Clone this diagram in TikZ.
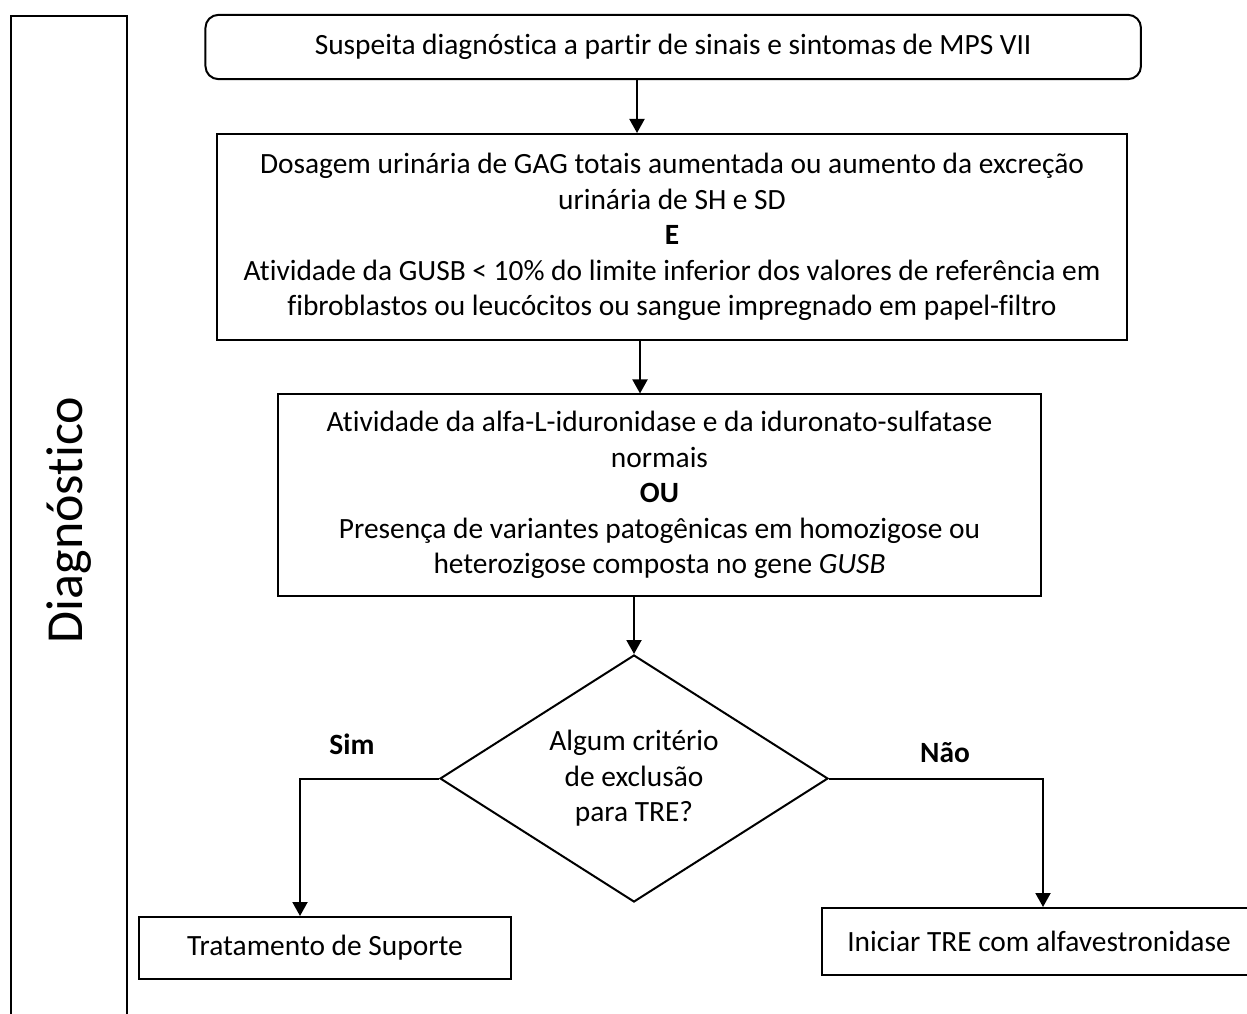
\documentclass[tikz,border=0pt]{standalone}
\usepackage{fontspec}
\setmainfont{Carlito}[Ligatures={NoCommon}]
\usetikzlibrary{arrows.meta,shapes.geometric}
\tikzset{
  ln/.style={line width=2pt, draw=black},
  txt/.style={font=\fontsize{29.4}{35.5}\selectfont, align=center, inner sep=0pt},
  boxr/.style={ln, txt, rectangle},
  arr/.style={ln, -{Triangle[length=14pt,width=15pt]}},
}
\begin{document}
\begin{tikzpicture}[x=1pt,y=-1pt]
\useasboundingbox (0,0) rectangle (1247,1014);
% side panel
\node[ln, rectangle, minimum width=116pt, minimum height=1015pt, inner sep=0pt, anchor=north west] (panel) at (9.5,14.7) {};
\node[font=\fontsize{52}{60}\selectfont, rotate=90, anchor=base, inner sep=0pt] (diag) at (82,520) {Diagnóstico};
% boxes
\node[boxr, rounded corners=13pt, minimum width=935.5pt, minimum height=64.3pt] (b1) at (673.2,47) {Suspeita diagnóstica a partir de sinais e sintomas de MPS VII};
\node[boxr, minimum width=910pt, minimum height=206pt] (b2) at (672,237) {Dosagem urinária de GAG totais aumentada ou aumento da excreção\\ urinária de SH e SD\\ \textbf{E}\\ Atividade da GUSB < 10\% do limite inferior dos valores de referência em\\ fibroblastos ou leucócitos ou sangue impregnado em papel-filtro};
\node[boxr, minimum width=763pt, minimum height=201.5pt] (b3) at (659.5,495.2) {Atividade da alfa-L-iduronidase e da iduronato-sulfatase\\ normais\\ \textbf{OU}\\ Presença de variantes patogênicas em homozigose ou\\ heterozigose composta no gene \textit{GUSB}};
\node[ln, txt, diamond, aspect=1.57, minimum width=388pt, minimum height=247pt] (d) at (634,778.5) {Algum critério\\ de exclusão\\ para TRE?};
\node[boxr, minimum width=372pt, minimum height=62pt] (b4) at (325,948) {Tratamento de Suporte};
\node[boxr, minimum width=434pt, minimum height=67pt] (b5) at (1039,941.5) {Iniciar TRE com alfavestronidase};
% labels
\node[txt, font=\fontsize{29.4}{35.5}\selectfont\bfseries] (sim) at (352,744) {Sim};
\node[txt, font=\fontsize{29.4}{35.5}\selectfont\bfseries] (nao) at (945,753) {Não};
% connector helpers
\coordinate (x1) at (637,0);
\coordinate (x2) at (640,0);
\coordinate (simc) at (300,778.5);
\coordinate (naoc) at (1043,778.5);
% connectors
\draw[arr] (b1.south -| x1) -- (b2.north -| x1);
\draw[arr] (b2.south -| x2) -- (b3.north -| x2);
\draw[arr] (b3.south -| d.north) -- (d.north);
\draw[arr] (d.west) -- (simc) -- (simc |- b4.north);
\draw[arr] (d.east) -- (naoc) -- (naoc |- b5.north);
\end{tikzpicture}
\end{document}
